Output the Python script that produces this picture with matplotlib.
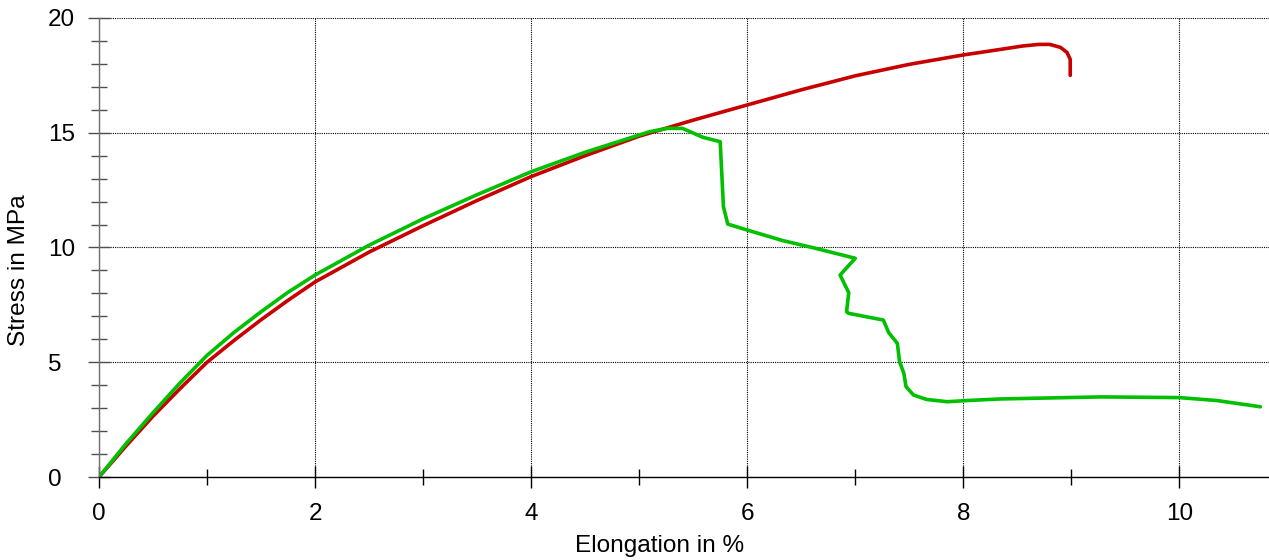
import numpy as np
import matplotlib.pyplot as plt
from matplotlib.ticker import MultipleLocator

plt.rcParams['font.family'] = ['Liberation Sans', 'DejaVu Sans']

# Specimen 1 (red): elongation in %, stress in MPa
elong_red = [0, 0.25, 0.5, 0.75, 1.0, 1.25, 1.5, 1.75, 2.0, 2.5, 3.0, 3.5, 4.0,
             4.5, 5.0, 5.5, 6.0, 6.5, 7.0, 7.5, 8.0, 8.3, 8.55, 8.7, 8.8, 8.9,
             8.96, 8.99, 8.99]
stress_red = [0, 1.35, 2.65, 3.85, 5.0, 5.95, 6.85, 7.7, 8.5, 9.8, 10.95, 12.05,
              13.09, 14.0, 14.85, 15.55, 16.21, 16.87, 17.48, 17.98, 18.39, 18.6,
              18.78, 18.85, 18.85, 18.72, 18.5, 18.2, 17.5]

# Specimen 2 (green)
elong_green = [0, 0.25, 0.5, 0.75, 1.0, 1.25, 1.5, 1.75, 2.0, 2.5, 3.0, 3.5, 4.0,
               4.5, 4.9, 5.1, 5.26, 5.40, 5.47, 5.59, 5.75, 5.78, 5.82, 6.0, 6.33,
               6.61, 7.0, 6.86, 6.94, 6.92, 6.94, 7.26, 7.31, 7.39, 7.41, 7.45,
               7.47, 7.54, 7.66, 7.85, 8.03, 8.34, 9.27, 10.0, 10.35, 10.75]
stress_green = [0, 1.45, 2.8, 4.1, 5.3, 6.3, 7.2, 8.05, 8.8, 10.1, 11.25, 12.3,
                13.3, 14.15, 14.75, 15.05, 15.19, 15.19, 15.05, 14.8, 14.61, 11.78,
                11.02, 10.76, 10.3, 9.99, 9.53, 8.8, 8.03, 7.2, 7.13, 6.84, 6.29,
                5.82, 5.03, 4.52, 3.94, 3.57, 3.38, 3.28, 3.33, 3.4, 3.49, 3.46,
                3.33, 3.06]

fig = plt.figure(figsize=(12.69, 5.6), dpi=100)
ax = fig.add_axes([99 / 1269, 1 - 477 / 560, 1 - 99 / 1269, (477 - 18) / 560])

ax.plot(elong_red, stress_red, color='#c80000', linewidth=2.6,
        solid_joinstyle='round', solid_capstyle='round')
ax.plot(elong_green, stress_green, color='#00c000', linewidth=2.6,
        solid_joinstyle='round', solid_capstyle='round')

ax.set_xlim(0, 10.83)
ax.set_ylim(0, 20)
ax.xaxis.set_major_locator(MultipleLocator(2))
ax.xaxis.set_minor_locator(MultipleLocator(1))
ax.yaxis.set_major_locator(MultipleLocator(5))
ax.yaxis.set_minor_locator(MultipleLocator(1))

ax.grid(True, which='major', color='black', linestyle=(0, (1, 1)), linewidth=0.8)

for side in ['top', 'right']:
    ax.spines[side].set_visible(False)
ax.spines['left'].set_color('#707070')
ax.spines['left'].set_linewidth(1.0)
ax.spines['bottom'].set_color('black')
ax.spines['bottom'].set_linewidth(1.0)

ax.tick_params(axis='both', which='major', direction='inout', length=16, width=1.0,
               labelsize=17.5)
ax.tick_params(axis='both', which='minor', direction='inout', length=11, width=1.0)
ax.tick_params(axis='y', which='both', color='#505050')
ax.tick_params(axis='y', which='major', pad=28.7)
ax.tick_params(axis='x', which='both', color='black')
ax.tick_params(axis='x', which='major', pad=10.7)
# y tick labels are left-aligned
for lbl in ax.get_yticklabels():
    lbl.set_horizontalalignment('left')

ax.set_xlabel('Elongation in %', fontsize=17.6)
ax.set_ylabel('Stress in MPa', fontsize=17.6)
ax.xaxis.set_label_coords(0.4795, -0.126)
ax.yaxis.set_label_coords(-0.059, 0.451)

fig.savefig('out.png', dpi=100)
